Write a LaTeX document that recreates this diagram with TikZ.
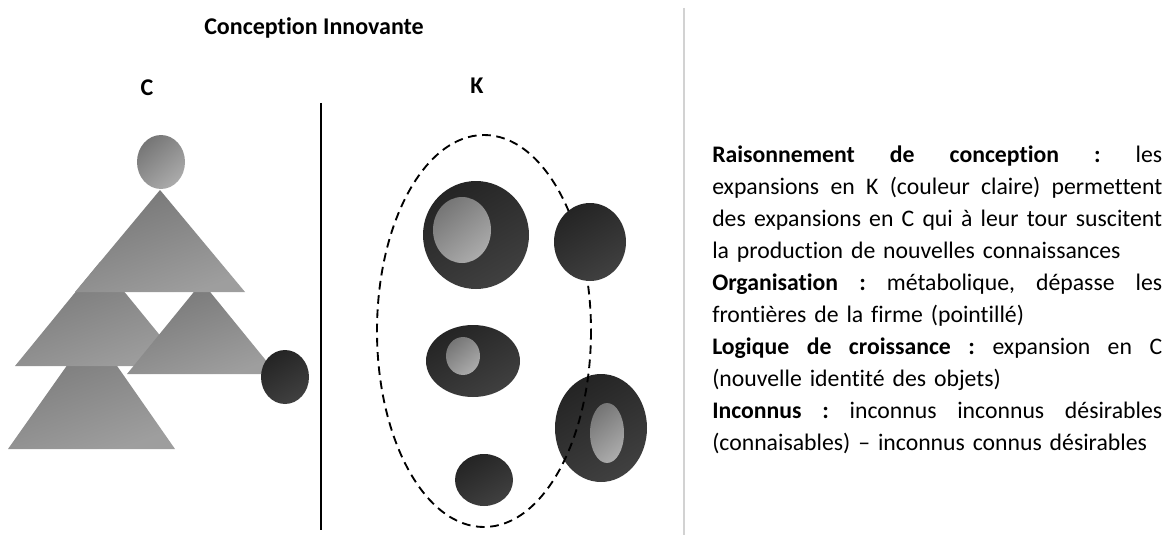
\documentclass[tikz,border=0pt]{standalone}
\usepackage{fontspec}
\setmainfont{Carlito}[Ligatures=NoCommon]
\definecolor{triA}{HTML}{767676}
\definecolor{triB}{HTML}{9E9E9E}
\definecolor{darkA}{HTML}{242424}
\definecolor{darkB}{HTML}{404040}
\definecolor{lightA}{HTML}{767676}
\definecolor{lightB}{HTML}{ABABAB}
\newcommand\jline[1]{\makebox[337.5pt][s]{\frenchspacing\spaceskip=0.226em plus 1fil\xspaceskip=\spaceskip\relax #1}}
\tikzset{
  tri/.style={top color=triA, bottom color=triB, shading angle=20},
  darkblob/.style={top color=darkA, bottom color=darkB, shading angle=30},
  lightblob/.style={top color=lightA, bottom color=lightB, shading angle=40},
  lbl/.style={font=\fontsize{18}{22}\selectfont\bfseries, inner sep=0pt},
}
\begin{document}
\begin{tikzpicture}[x=0.75pt,y=-0.75pt]
\useasboundingbox (0,0) rectangle (1175,535);
% titles
\node[lbl] (title) at (314,28) {Conception Innovante};
\node[lbl] (cC) at (147,88) {C};
\node[lbl] (cK) at (477,86) {K};
% separators
\draw[line width=1.5pt] (321,103) -- (321,530);
\draw[gray!35, line width=0.8pt] (684,8) -- (684,535);
% C side: triangles
\shade[tri] (92,330) -- (175,449) -- (8,449) -- cycle;
\shade[tri] (100,262) -- (185,366) -- (15,366) -- cycle;
\shade[tri] (202,282) -- (277,374) -- (127,374) -- cycle;
\shade[tri] (160,190) -- (245,292) -- (75,292) -- cycle;
\shade[lightblob] (161,162) ellipse [x radius=24, y radius=27];
\shade[darkblob] (285,377) ellipse [x radius=24, y radius=27];
% K side
\shade[darkblob] (601,428) ellipse [x radius=46, y radius=54];
\shade[lightblob] (607,433) ellipse [x radius=17, y radius=30];
\draw[dash pattern=on 6.5pt off 4.2pt, line width=1.4pt] (484,331) ellipse [x radius=107, y radius=196];
\shade[darkblob] (590,242) ellipse [x radius=36, y radius=39];
\shade[darkblob] (476,235) ellipse [x radius=53, y radius=54];
\shade[lightblob] (462,230) ellipse [x radius=29, y radius=33];
\shade[darkblob] (473,361) ellipse [x radius=47, y radius=36];
\shade[lightblob] (463,356) ellipse [x radius=17, y radius=19];
\shade[darkblob] (484,480) ellipse [x radius=29, y radius=26];
% text
\node[anchor=north west, inner sep=0pt, text width=337.5pt, align=left,
      font=\fontsize{17.8}{24}\selectfont\frenchspacing] (txt) at (712,146) {%
\jline{\textbf{Raisonnement de conception :} les}\\
\jline{expansions en K (couleur claire) permettent}\\
\jline{des expansions en C qui à leur tour suscitent}\\
la production de nouvelles connaissances\\
\jline{\textbf{Organisation :} métabolique, dépasse les}\\
frontières de la firme (pointillé)\\
\jline{\textbf{Logique de croissance :} expansion en C}\\
(nouvelle identité des objets)\\
\jline{\textbf{Inconnus :} inconnus inconnus désirables}\\
(connaisables) – inconnus connus désirables};
\end{tikzpicture}
\end{document}
